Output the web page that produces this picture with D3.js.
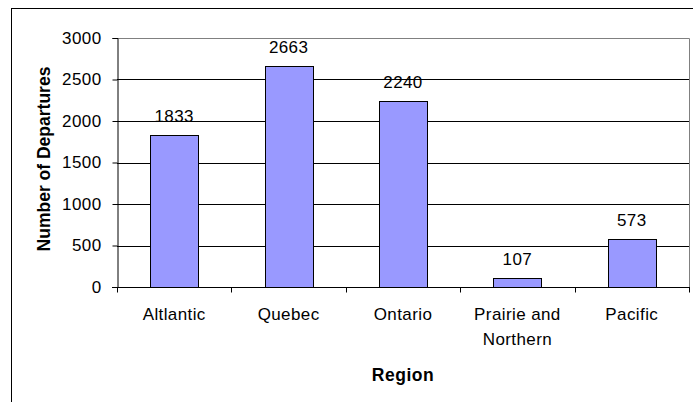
<!DOCTYPE html>
<html><head><meta charset="utf-8">
<script src="https://cdn.jsdelivr.net/npm/d3@7"></script>
<style>
html,body{margin:0;padding:0;background:#fff;}
svg{display:block;font-family:"Liberation Sans",Arial,sans-serif;}
</style></head>
<body>
<svg id="c" width="693" height="402"></svg>
<script>
const categories = ["Altlantic", "Quebec", "Ontario", "Prairie and\nNorthern", "Pacific"];
const departures = [1833, 2663, 2240, 107, 573];
const yTicks = [0, 500, 1000, 1500, 2000, 2500, 3000];
const yTitle = "Number of Departures";
const xTitle = "Region";

const svg = d3.select("#c");
const L = 117, R = 689, T = 38, B = 287;
const FS = 17, LS = "0.4px";

// chart frame
svg.append("rect").attr("x", 11.5).attr("y", 8.5).attr("width", 700).attr("height", 420)
  .attr("fill", "#fff").attr("stroke", "#000").attr("stroke-width", 1);

const x = d3.scaleBand().domain(categories).range([L, R]).paddingInner(0.58).paddingOuter(0.29);
const xb = d3.scaleBand().domain(categories).range([L, R]);
const y = d3.scaleLinear().domain([0, 3000]).range([B, T]);

// plot area border (gray top/right)
svg.append("path").attr("d", `M${L},${T+0.5}H${R+0.5}V${B}`).attr("fill", "none").attr("stroke", "#808080");

// gridlines
svg.append("g").selectAll("line").data(yTicks.filter(d => d > 0 && d < 3000)).join("line")
  .attr("x1", L).attr("x2", R).attr("y1", d => Math.round(y(d)) + 0.5).attr("y2", d => Math.round(y(d)) + 0.5)
  .attr("stroke", "#000");

// bars
svg.append("g").selectAll("rect").data(categories).join("rect")
  .attr("x", d => Math.round(x(d)) + 0.5)
  .attr("y", (d, i) => Math.round(y(departures[i])) + 0.5)
  .attr("width", Math.round(x.bandwidth()))
  .attr("height", (d, i) => Math.round(B - y(departures[i])))
  .attr("fill", "#9999FF").attr("stroke", "#000");

// value labels
svg.append("g").selectAll("text").data(categories).join("text")
  .attr("x", d => x(d) + x.bandwidth() / 2)
  .attr("y", (d, i) => y(departures[i]) - 13)
  .attr("text-anchor", "middle").attr("font-size", FS).attr("letter-spacing", LS).text((d, i) => departures[i]);

// y axis
const yAxis = d3.axisLeft(y).tickValues(yTicks).tickSize(5).tickPadding(11).tickFormat(d3.format("d"));
const gy = svg.append("g").attr("transform", `translate(${L + 0.5},0)`).call(yAxis);
gy.select(".domain").attr("stroke", "#000");
gy.selectAll(".tick line").attr("stroke", "#000");
gy.selectAll("text").attr("font-size", FS).attr("letter-spacing", LS).attr("fill", "#000").attr("font-family", "Liberation Sans, Arial, sans-serif");

// x axis
const gx = svg.append("g").attr("transform", `translate(0,${B + 0.5})`);
gx.append("line").attr("x1", L - 5).attr("x2", R + 1).attr("stroke", "#000");
const bounds = categories.map(d => xb(d)).concat([R]);
gx.selectAll("line.t").data(bounds).join("line").attr("class", "t")
  .attr("x1", d => Math.round(d) + 0.5).attr("x2", d => Math.round(d) + 0.5).attr("y1", 0).attr("y2", 5).attr("stroke", "#000");
const lbl = gx.selectAll("text").data(categories).join("text")
  .attr("text-anchor", "middle").attr("font-size", FS).attr("letter-spacing", LS)
  .attr("transform", d => `translate(${xb(d) + xb.bandwidth() / 2},0)`);
lbl.each(function(d) {
  const lines = d.split("\n");
  d3.select(this).selectAll("tspan").data(lines).join("tspan")
    .attr("x", 0).attr("y", (l, i) => 32 + i * 25).text(l => l);
});

// titles
svg.append("text").attr("x", 403).attr("y", 381).attr("text-anchor", "middle")
  .attr("font-size", 17.5).attr("letter-spacing", "0.5px").attr("font-weight", "bold").text(xTitle);
svg.append("text").attr("transform", "translate(50,159) rotate(-90)").attr("text-anchor", "middle")
  .attr("font-size", 17.5).attr("font-weight", "bold").text(yTitle);
</script>
</body></html>
